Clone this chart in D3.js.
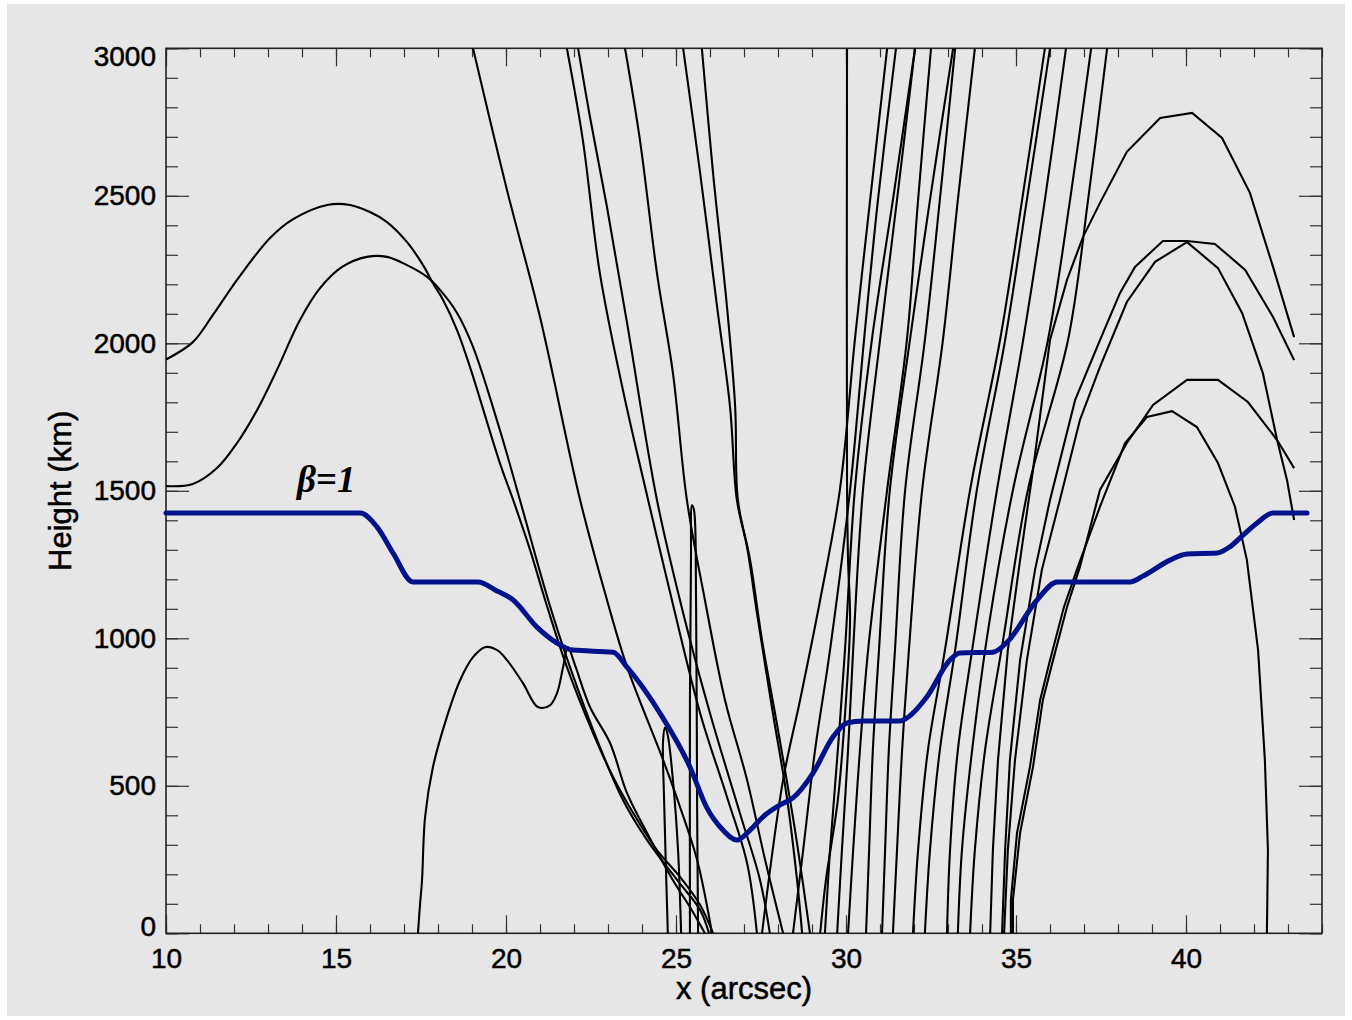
<!DOCTYPE html>
<html>
<head>
<meta charset="utf-8">
<script src="https://cdn.jsdelivr.net/npm/d3@7"></script>
<style>
  body { margin: 0; background: #fff; }
  .lbl { font-family: "Liberation Sans", Arial, sans-serif; fill: #000; stroke: #000; stroke-width: 0.5px; }
  .beta { font-family: "Liberation Serif", "Times New Roman", serif; font-style: italic; font-weight: bold; fill: #000; }
</style>
</head>
<body>
<div id="chart"></div>
<script>
// tick values
const xTicks = [10, 15, 20, 25, 30, 35, 40];
const yTicks = [0, 500, 1000, 1500, 2000, 2500, 3000];

// beta = 1 surface, [x arcsec, height km]
const betaLine = [[10.0,1425],[15.71,1425],[16.21,1377],[16.68,1289],[17.26,1191],[19.18,1191],[19.68,1164],
  [20.21,1130],[20.91,1038],[21.5,984],[21.97,960],[23.15,953],[23.56,902],[24.53,746],[25.41,564],[25.91,425],
  [26.38,350],[26.79,316],[27.18,350],[27.56,395],[28.06,435],[28.44,459],[29.03,543],[29.62,666],[30.03,713],
  [30.5,720],[31.59,720],[31.79,730],[32.38,802],[33.06,927],[33.35,950],[34.32,953],[34.74,987],[35.62,1130],
  [36.21,1191],[38.35,1191],[38.74,1211],[39.53,1265],[40.03,1286],[40.91,1289],[41.29,1310],[41.68,1350],
  [42.09,1391],[42.56,1425],[43.56,1425]];

// field lines on the left
const arcUpper = [[10.0,1945],[10.79,2004],[11.38,2096],[12.09,2215],[13.06,2357],[13.74,2421],[14.74,2469],
  [15.41,2469],[16.0,2445],[16.5,2411],[17.09,2343],[17.56,2265],[17.85,2204],[18.15,2147],[18.56,2045],
  [18.94,1920],[19.82,1594],[20.21,1469],[20.71,1299],[21.15,1130],[21.79,903],[22.56,679],[23.15,530],
  [23.74,408],[24.44,282],[25.12,191],[25.71,96],[26.09,0]];
const arcLower = [[10.0,1516],[10.79,1523],[11.5,1577],[12.09,1662],[12.68,1774],[13.26,1909],[13.94,2079],
  [14.53,2187],[15.18,2259],[15.91,2293],[16.5,2293],[17.09,2265],[17.68,2225],[18.06,2181],[18.56,2103],
  [19.03,1988],[19.82,1706],[20.41,1469],[21.24,1130],[21.88,903],[22.76,632],[23.44,452],[24.15,316],
  [25.03,181],[25.71,79],[25.97,0]];
const bumpLine = [[17.41,0],[17.47,96],[17.53,180],[17.62,394],[17.85,563],[18.26,733],[18.65,858],[19.03,936],
  [19.38,970],[19.74,960],[20.03,926],[20.5,848],[20.94,767],[21.29,773],[21.5,814],[21.68,903],[21.82,970],
  [22.03,909],[22.47,767],[23.06,645],[23.56,475],[24.15,340],[24.91,180],[25.41,89],[25.85,0]];

// lines coming down from the top, left of the minimum
const down1 = [[19.03,3000],[20.03,2519],[21.0,2089],[22.18,1469],[22.97,1130],[23.56,903],[24.62,588],[25.12,428],[25.62,249],[26.06,0]];
const down2 = [[21.79,3000],[22.26,2689],[22.76,2238],[23.44,1841],[24.18,1469],[24.74,1197],[25.71,746],[26.5,462],[27.09,238],[27.38,0]];
const down3 = [[22.12,3000],[22.47,2767],[22.97,2462],[23.56,2069],[24.44,1469],[25.21,1086],[26.0,746],[26.88,407],[27.47,181],[27.76,0]];
const down4 = [[23.5,3000],[23.94,2689],[24.44,2238],[24.91,1899],[25.32,1469],[25.85,1130],[26.44,791],[27.09,520],[27.62,249],[28.15,0]];
const down5 = [[25.21,3000],[25.71,2577],[26.21,2123],[26.59,1784],[26.79,1469],[27.09,1309],[27.38,1086],[27.85,746],[28.26,462],[28.56,181],[28.71,0]];
const down6 = [[25.76,3000],[26.09,2577],[26.5,2123],[26.74,1784],[26.82,1469],[27.18,1265],[27.53,994],[28.0,689],[28.5,350],[28.94,0]];

// narrow loops near x = 25
const spike1 = [[25.41,0],[25.41,790],[25.44,1265],[25.47,1451],[25.53,1434],[25.59,1129],[25.62,451],[25.65,0]];
const spike2 = [[24.76,0],[24.65,451],[24.62,654],[24.68,698],[24.76,670],[24.91,519],[25.06,282],[25.15,0]];

// near-vertical line at x = 30
const vertLine = [[30.03,3000],[30.03,1537],[30.06,1266],[30.12,1062],[30.0,791],[29.76,452],[29.41,181],[29.24,0]];

// lines going up to the top, right of the minimum
const up1 = [[27.53,0],[28.15,520],[28.65,791],[29.24,1130],[29.82,1503],[30.26,2011],[30.71,2486],[31.21,3000]];
const up2 = [[28.44,0],[28.74,282],[29.09,621],[29.53,960],[30.12,1503],[30.53,2011],[30.94,2486],[31.47,3000]];
const up3 = [[29.38,0],[29.53,282],[29.76,621],[29.97,960],[30.26,1503],[30.76,2011],[31.38,2486],[32.03,3000]];
const up4 = [[29.74,0],[29.88,282],[30.06,621],[30.21,960],[30.5,1503],[31.0,2011],[31.5,2486],[32.03,3000]];
const up5 = [[30.06,0],[30.21,282],[30.41,621],[30.65,960],[31.21,1503],[31.79,2011],[32.12,2486],[32.5,3000]];
const up6 = [[30.59,0],[30.68,282],[30.79,621],[30.97,960],[31.29,1503],[31.88,2011],[32.47,2486],[33.15,3000]];
const up7 = [[31.06,0],[31.15,282],[31.26,621],[31.44,960],[31.74,1503],[32.32,2011],[32.76,2486],[33.21,3000]];
const up8 = [[31.38,0],[31.5,282],[31.65,621],[31.85,960],[32.24,1503],[32.85,2011],[33.29,2486],[33.79,3000]];
const up9 = [[31.97,0],[32.12,282],[32.41,621],[32.91,960],[33.65,1503],[34.53,2011],[35.18,2486],[35.85,3000]];
const up10 = [[32.32,0],[32.47,282],[32.76,621],[33.21,960],[33.85,1503],[34.68,2011],[35.32,2486],[36.0,3000]];
const up11 = [[32.97,0],[33.06,282],[33.29,621],[33.71,960],[34.44,1503],[35.21,2011],[35.85,2486],[36.47,3000]];
const up12 = [[33.29,0],[33.41,282],[33.71,621],[34.18,1028],[34.91,1503],[35.94,2011],[36.59,2486],[37.21,3000]];
const up13 = [[33.65,0],[33.79,282],[34.09,621],[34.62,994],[35.35,1503],[36.53,2011],[37.12,2486],[37.68,3000]];

// closed loops on the right (coarsely sampled)
const loop1 = [[34.24,0],[34.32,282],[34.47,587],[34.76,960],[35.12,1266],[35.5,1571],[36.0,2011],[36.5,2215],
  [36.97,2360],[37.47,2476],[38.26,2649],[39.24,2764],[40.18,2781],[41.06,2696],[41.88,2510],[42.56,2259],[43.18,2021]];
const loop2 = [[34.59,0],[34.68,282],[34.82,587],[35.12,926],[35.56,1232],[36.0,1469],[36.74,1808],[37.47,2011],
  [38.06,2171],[38.5,2259],[39.32,2347],[40.03,2347],[40.85,2337],[41.74,2249],[42.56,2089],[43.18,1943]];
const loop3 = [[34.65,0],[34.76,282],[34.97,587],[35.32,926],[35.76,1232],[36.29,1469],[36.88,1740],[37.47,1920],
  [38.26,2140],[39.09,2276],[40.03,2343],[40.94,2255],[41.65,2103],[42.26,1899],[42.68,1672],[42.97,1537],[43.18,1401]];
const loop4 = [[34.91,0],[34.91,113],[35.12,340],[35.5,564],[35.79,791],[36.09,926],[36.5,1106],[36.88,1242],
  [37.47,1503],[38.26,1662],[39.03,1791],[40.03,1876],[40.94,1876],[41.82,1801],[42.68,1672],[43.18,1577]];
const loop5 = [[34.85,0],[34.85,113],[35.03,340],[35.41,564],[35.71,791],[36.0,926],[36.41,1106],[36.82,1242],
  [37.47,1446],[38.21,1662],[38.85,1750],[39.59,1770],[40.32,1716],[40.94,1594],[41.44,1446],[41.79,1266],
  [42.12,960],[42.32,587],[42.41,282],[42.38,0]];

const smoothLines = [arcUpper, arcLower, bumpLine, down1, down2, down3, down4, down5, down6,
  spike1, spike2, vertLine, up1, up2, up3, up4, up5, up6, up7, up8, up9, up10, up11, up12, up13];
const loopLines = [loop1, loop2, loop3, loop4, loop5];

const W = 1352, H = 1020;
const margin = {top: 48.3, right: 30, bottom: 86.7, left: 166};
const width = W - margin.left - margin.right;
const height = H - margin.top - margin.bottom;

const svg = d3.select("#chart").append("svg")
  .attr("width", W)
  .attr("height", H);

svg.append("rect")
  .attr("x", 7).attr("y", 4)
  .attr("width", 1338).attr("height", 1012)
  .attr("fill", "#e6e6e6");

const g = svg.append("g")
  .attr("transform", `translate(${margin.left},${margin.top})`);

const x = d3.scaleLinear().domain([10, 44]).range([0, width]);
const y = d3.scaleLinear().domain([0, 3000]).range([height, 0]);

svg.append("defs").append("clipPath").attr("id", "plot-clip")
  .append("rect").attr("width", width).attr("height", height);

// minor + major ticks on all four sides, pointing inward
function styleAxis(sel) {
  sel.select(".domain").remove();
  sel.selectAll(".tick line").attr("stroke", "#333").attr("stroke-width", 1.2);
}

const minorX = d3.range(10, 45, 1);
const minorY = d3.range(0, 3001, 100);

g.append("g").attr("transform", `translate(0,${height})`)
  .call(d3.axisBottom(x).tickValues(minorX).tickSize(-9).tickFormat(""))
  .call(styleAxis);
g.append("g")
  .call(d3.axisTop(x).tickValues(minorX).tickSize(-9).tickFormat(""))
  .call(styleAxis);
g.append("g")
  .call(d3.axisLeft(y).tickValues(minorY).tickSize(-12).tickFormat(""))
  .call(styleAxis);
g.append("g").attr("transform", `translate(${width},0)`)
  .call(d3.axisRight(y).tickValues(minorY).tickSize(-12).tickFormat(""))
  .call(styleAxis);

const xAxis = g.append("g").attr("transform", `translate(0,${height})`)
  .call(d3.axisBottom(x).tickValues(xTicks).tickSize(-18).tickPadding(15).tickFormat(d3.format("d")))
  .call(styleAxis);
g.append("g")
  .call(d3.axisTop(x).tickValues(xTicks).tickSize(-18).tickFormat(""))
  .call(styleAxis);
const yAxis = g.append("g")
  .call(d3.axisLeft(y).tickValues(yTicks).tickSize(-23).tickPadding(10).tickFormat(d3.format("d")))
  .call(styleAxis);
g.append("g").attr("transform", `translate(${width},0)`)
  .call(d3.axisRight(y).tickValues(yTicks).tickSize(-23).tickFormat(""))
  .call(styleAxis);

xAxis.selectAll("text").attr("class", "lbl").attr("font-size", 28).attr("font-family", null);
yAxis.selectAll("text").attr("class", "lbl").attr("font-size", 28).attr("font-family", null);
// end labels are pulled inside the frame
yAxis.selectAll(".tick text").filter(d => d === 0).attr("dy", "0.07em");
yAxis.selectAll(".tick text").filter(d => d === 3000).attr("dy", "0.62em");

// frame
g.append("rect")
  .attr("width", width).attr("height", height)
  .attr("fill", "none").attr("stroke", "#222").attr("stroke-width", 1.6);

const plot = g.append("g").attr("clip-path", "url(#plot-clip)");

const smooth = d3.line()
  .x(d => x(d[0])).y(d => y(d[1]))
  .curve(d3.curveCatmullRom.alpha(0.5));
const straight = d3.line()
  .x(d => x(d[0])).y(d => y(d[1]));

plot.selectAll("path.field")
  .data(smoothLines)
  .enter().append("path")
  .attr("class", "field")
  .attr("d", smooth)
  .attr("fill", "none")
  .attr("stroke", "#000")
  .attr("stroke-width", 2.1);

plot.selectAll("path.loop")
  .data(loopLines)
  .enter().append("path")
  .attr("class", "loop")
  .attr("d", straight)
  .attr("fill", "none")
  .attr("stroke", "#000")
  .attr("stroke-width", 2.1);

g.append("path")
  .datum(betaLine)
  .attr("d", d3.line().x(d => x(d[0])).y(d => y(d[1])).curve(d3.curveMonotoneX))
  .attr("fill", "none")
  .attr("stroke", "#00138c")
  .attr("stroke-width", 5)
  .attr("stroke-linecap", "round")
  .attr("stroke-linejoin", "round");

g.append("text")
  .attr("class", "beta")
  .attr("x", x(13.85))
  .attr("y", y(1495))
  .attr("font-size", 37)
  .text("β=1");

svg.append("text")
  .attr("class", "lbl")
  .attr("x", margin.left + width / 2)
  .attr("y", 999)
  .attr("text-anchor", "middle")
  .attr("font-size", 31)
  .text("x (arcsec)");

svg.append("text")
  .attr("class", "lbl")
  .attr("transform", `translate(71,${margin.top + height / 2}) rotate(-90)`)
  .attr("text-anchor", "middle")
  .attr("font-size", 31)
  .text("Height (km)");
</script>
</body>
</html>
